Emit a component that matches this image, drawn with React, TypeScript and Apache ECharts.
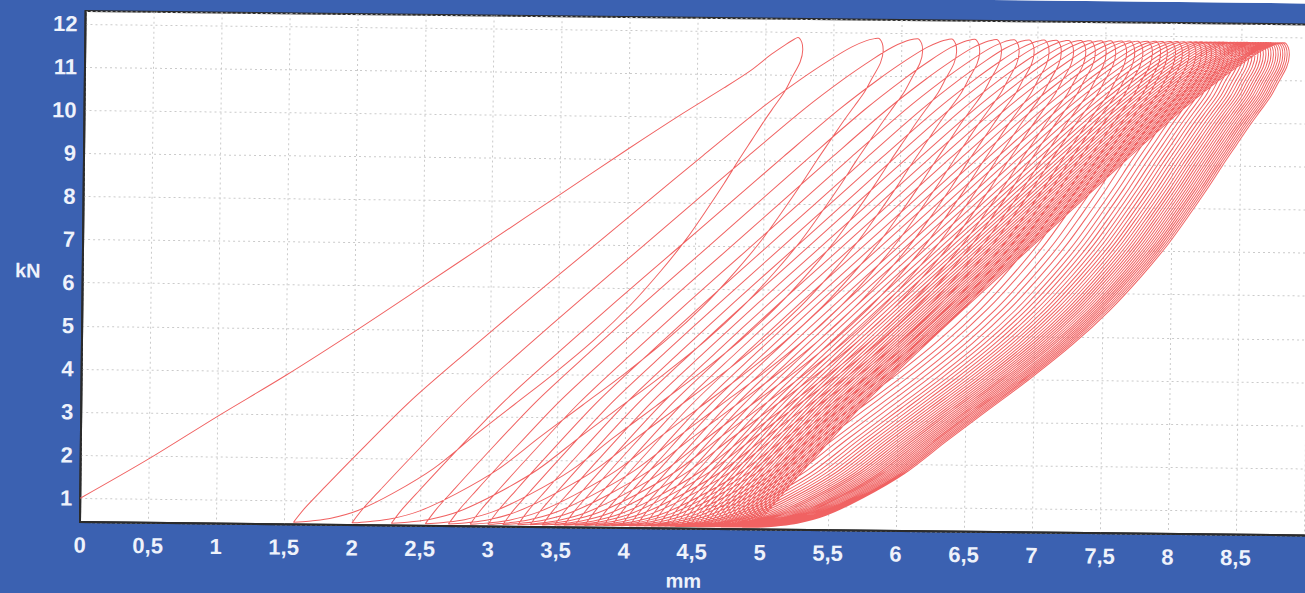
import React, { useEffect, useRef } from "react";
import * as echarts from "echarts";

// ---- data ----
// first loading branch (mm, kN)
const FIRST_X = [0, 0.5, 1.0, 1.5, 2.0, 2.5, 3.0, 3.5, 4.0, 4.4, 4.7, 4.9, 5.05, 5.15, 5.21, 5.24];
const FIRST_Y = [1.0, 1.93, 2.93, 3.9, 4.93, 6.0, 7.08, 8.16, 9.24, 10.08, 10.68, 11.1, 11.48, 11.7, 11.82, 11.87];

// peak displacement of every cycle (mm), at the upper force
const PEAKS = [
  5.24, 5.83, 6.12, 6.37, 6.54, 6.7, 6.83, 6.94, 7.05, 7.14, 7.23, 7.32, 7.39, 7.47, 7.54, 7.62,
  7.68, 7.74, 7.81, 7.87, 7.92, 7.98, 8.03, 8.08, 8.13, 8.17, 8.208, 8.244, 8.278, 8.31, 8.34,
  8.369, 8.397, 8.424, 8.45, 8.475, 8.499, 8.522, 8.544, 8.565, 8.586, 8.606, 8.626, 8.645, 8.664,
  8.682, 8.7, 8.718, 8.735, 8.752, 8.769, 8.785, 8.801, 8.817,
];
// valley displacement of every cycle (mm), at the lower force
const VALLEYS = [
  1.57, 2.0, 2.29, 2.54, 2.71, 2.87, 3.0, 3.11, 3.22, 3.31, 3.4, 3.49, 3.56, 3.64, 3.71, 3.79,
  3.85, 3.91, 3.98, 4.04, 4.09, 4.15, 4.2, 4.25, 4.3, 4.34, 4.378, 4.414, 4.448, 4.48, 4.51,
  4.539, 4.567, 4.594, 4.62, 4.645, 4.669, 4.692, 4.714, 4.735, 4.756, 4.776, 4.796, 4.815, 4.834,
  4.852, 4.87, 4.888, 4.905, 4.922, 4.939, 4.955, 4.971, 4.987,
];
const F_UPPER = 11.87; // kN
const F_LOWER = 0.5; // kN

// shape of a loading branch, valley (0,0) -> peak (1,1), read from the first reloading
const LOAD_U = [0, 0.02, 0.05, 0.1, 0.2, 0.3, 0.4, 0.5, 0.6, 0.7, 0.8, 0.87, 0.92, 0.955, 0.98, 0.995, 1.0];
const LOAD_V = [0, 0.03, 0.068, 0.13, 0.25, 0.355, 0.457, 0.557, 0.657, 0.757, 0.855, 0.917, 0.957, 0.982, 0.995, 0.9995, 1.0];
// shape of an unloading branch, peak (1,1) -> valley (0,0), read from the first and last unloading
const UNLOAD_U = [1.0, 1.008, 1.01, 1.005, 0.99, 0.975, 0.955, 0.935, 0.91, 0.885, 0.855, 0.82, 0.78, 0.73, 0.67, 0.6, 0.52, 0.44, 0.36, 0.28, 0.2, 0.13, 0.075, 0.035, 0.01, 0];
const UNLOAD_V = [1.0, 0.99, 0.975, 0.95, 0.92, 0.89, 0.86, 0.83, 0.79, 0.75, 0.7, 0.645, 0.585, 0.52, 0.45, 0.38, 0.31, 0.245, 0.18, 0.113, 0.062, 0.026, 0.009, 0.003, 0.0005, 0];

const Y_TICKS = [1, 2, 3, 4, 5, 6, 7, 8, 9, 10, 11, 12];

function buildCurve(): [number, number][] {
  const pts: [number, number][] = [];
  FIRST_X.forEach((x, i) => pts.push([x, FIRST_Y[i]]));
  const span = F_UPPER - F_LOWER;
  for (let i = 0; i < PEAKS.length; i++) {
    const p = PEAKS[i];
    const b = VALLEYS[i];
    for (let k = 1; k < UNLOAD_U.length; k++) {
      pts.push([b + UNLOAD_U[k] * (p - b), F_LOWER + UNLOAD_V[k] * span]);
    }
    if (i < PEAKS.length - 1) {
      const p2 = PEAKS[i + 1];
      for (let k = 1; k < LOAD_U.length; k++) {
        pts.push([b + LOAD_U[k] * (p2 - b), F_LOWER + LOAD_V[k] * span]);
      }
    }
  }
  return pts;
}

const FONT = '"Liberation Sans", Arial, sans-serif';
const LABEL_COLOR = "#eef2fb";

export default function App() {
  const ref = useRef<HTMLDivElement>(null);
  useEffect(() => {
    if (!ref.current) return;
    const chart = echarts.init(ref.current, undefined, { renderer: "svg" });
    chart.setOption({
      animation: false,
      backgroundColor: "#3b61b1",
      grid: {
        left: 90,
        top: 21,
        width: 1251,
        height: 511,
        show: true,
        backgroundColor: "#ffffff",
        borderColor: "#2b2b2b",
        borderWidth: 2,
      },
      xAxis: {
        type: "value",
        min: 0,
        max: 9.2,
        interval: 0.5,
        axisLine: { show: true, lineStyle: { color: "#2b2b2b", width: 2 } },
        axisTick: { show: false },
        axisLabel: {
          color: LABEL_COLOR,
          fontSize: 22,
          fontWeight: "bold",
          fontFamily: FONT,
          margin: 12,
          formatter: (v: number) => (v >= 9 ? "" : String(v).replace(".", ",")),
        },
        splitLine: { show: true, lineStyle: { color: "#cacaca", type: [2, 3], width: 1 } },
      },
      yAxis: {
        type: "value",
        min: 0.45,
        max: 12.3,
        minInterval: 1,
        maxInterval: 1,
        axisLine: { show: true, lineStyle: { color: "#2b2b2b", width: 2 } },
        axisTick: { show: false },
        axisLabel: {
          color: LABEL_COLOR,
          fontSize: 22,
          fontWeight: "bold",
          fontFamily: FONT,
          margin: 8,
          formatter: (v: number) => (Y_TICKS.includes(v) ? String(v) : ""),
        },
        splitLine: { show: true, lineStyle: { color: "#cacaca", type: [2, 3], width: 1 } },
      },
      graphic: [
        {
          type: "text",
          x: 35,
          y: 281,
          style: { text: "kN", fill: LABEL_COLOR, font: `bold 20px ${FONT}`, align: "center", verticalAlign: "middle" },
        },
        {
          type: "text",
          x: 694,
          y: 584,
          style: { text: "mm", fill: LABEL_COLOR, font: `bold 20px ${FONT}`, align: "center", verticalAlign: "middle" },
        },
      ],
      series: [
        {
          type: "line",
          data: buildCurve(),
          showSymbol: false,
          smooth: 0.3,
          lineStyle: { color: "#f06262", width: 1 },
          clip: true,
        },
      ],
    });
    return () => chart.dispose();
  }, []);
  return (
    <div style={{ position: "fixed", left: 0, top: 0, width: "100vw", height: "100vh", overflow: "hidden", background: "#ffffff" }}>
      <div
        ref={ref}
        style={{
          position: "absolute",
          left: -10,
          top: -10,
          width: 1360,
          height: 625,
          transform: "rotate(0.63deg)",
          transformOrigin: "89px 532px",
        }}
      />
    </div>
  );
}
